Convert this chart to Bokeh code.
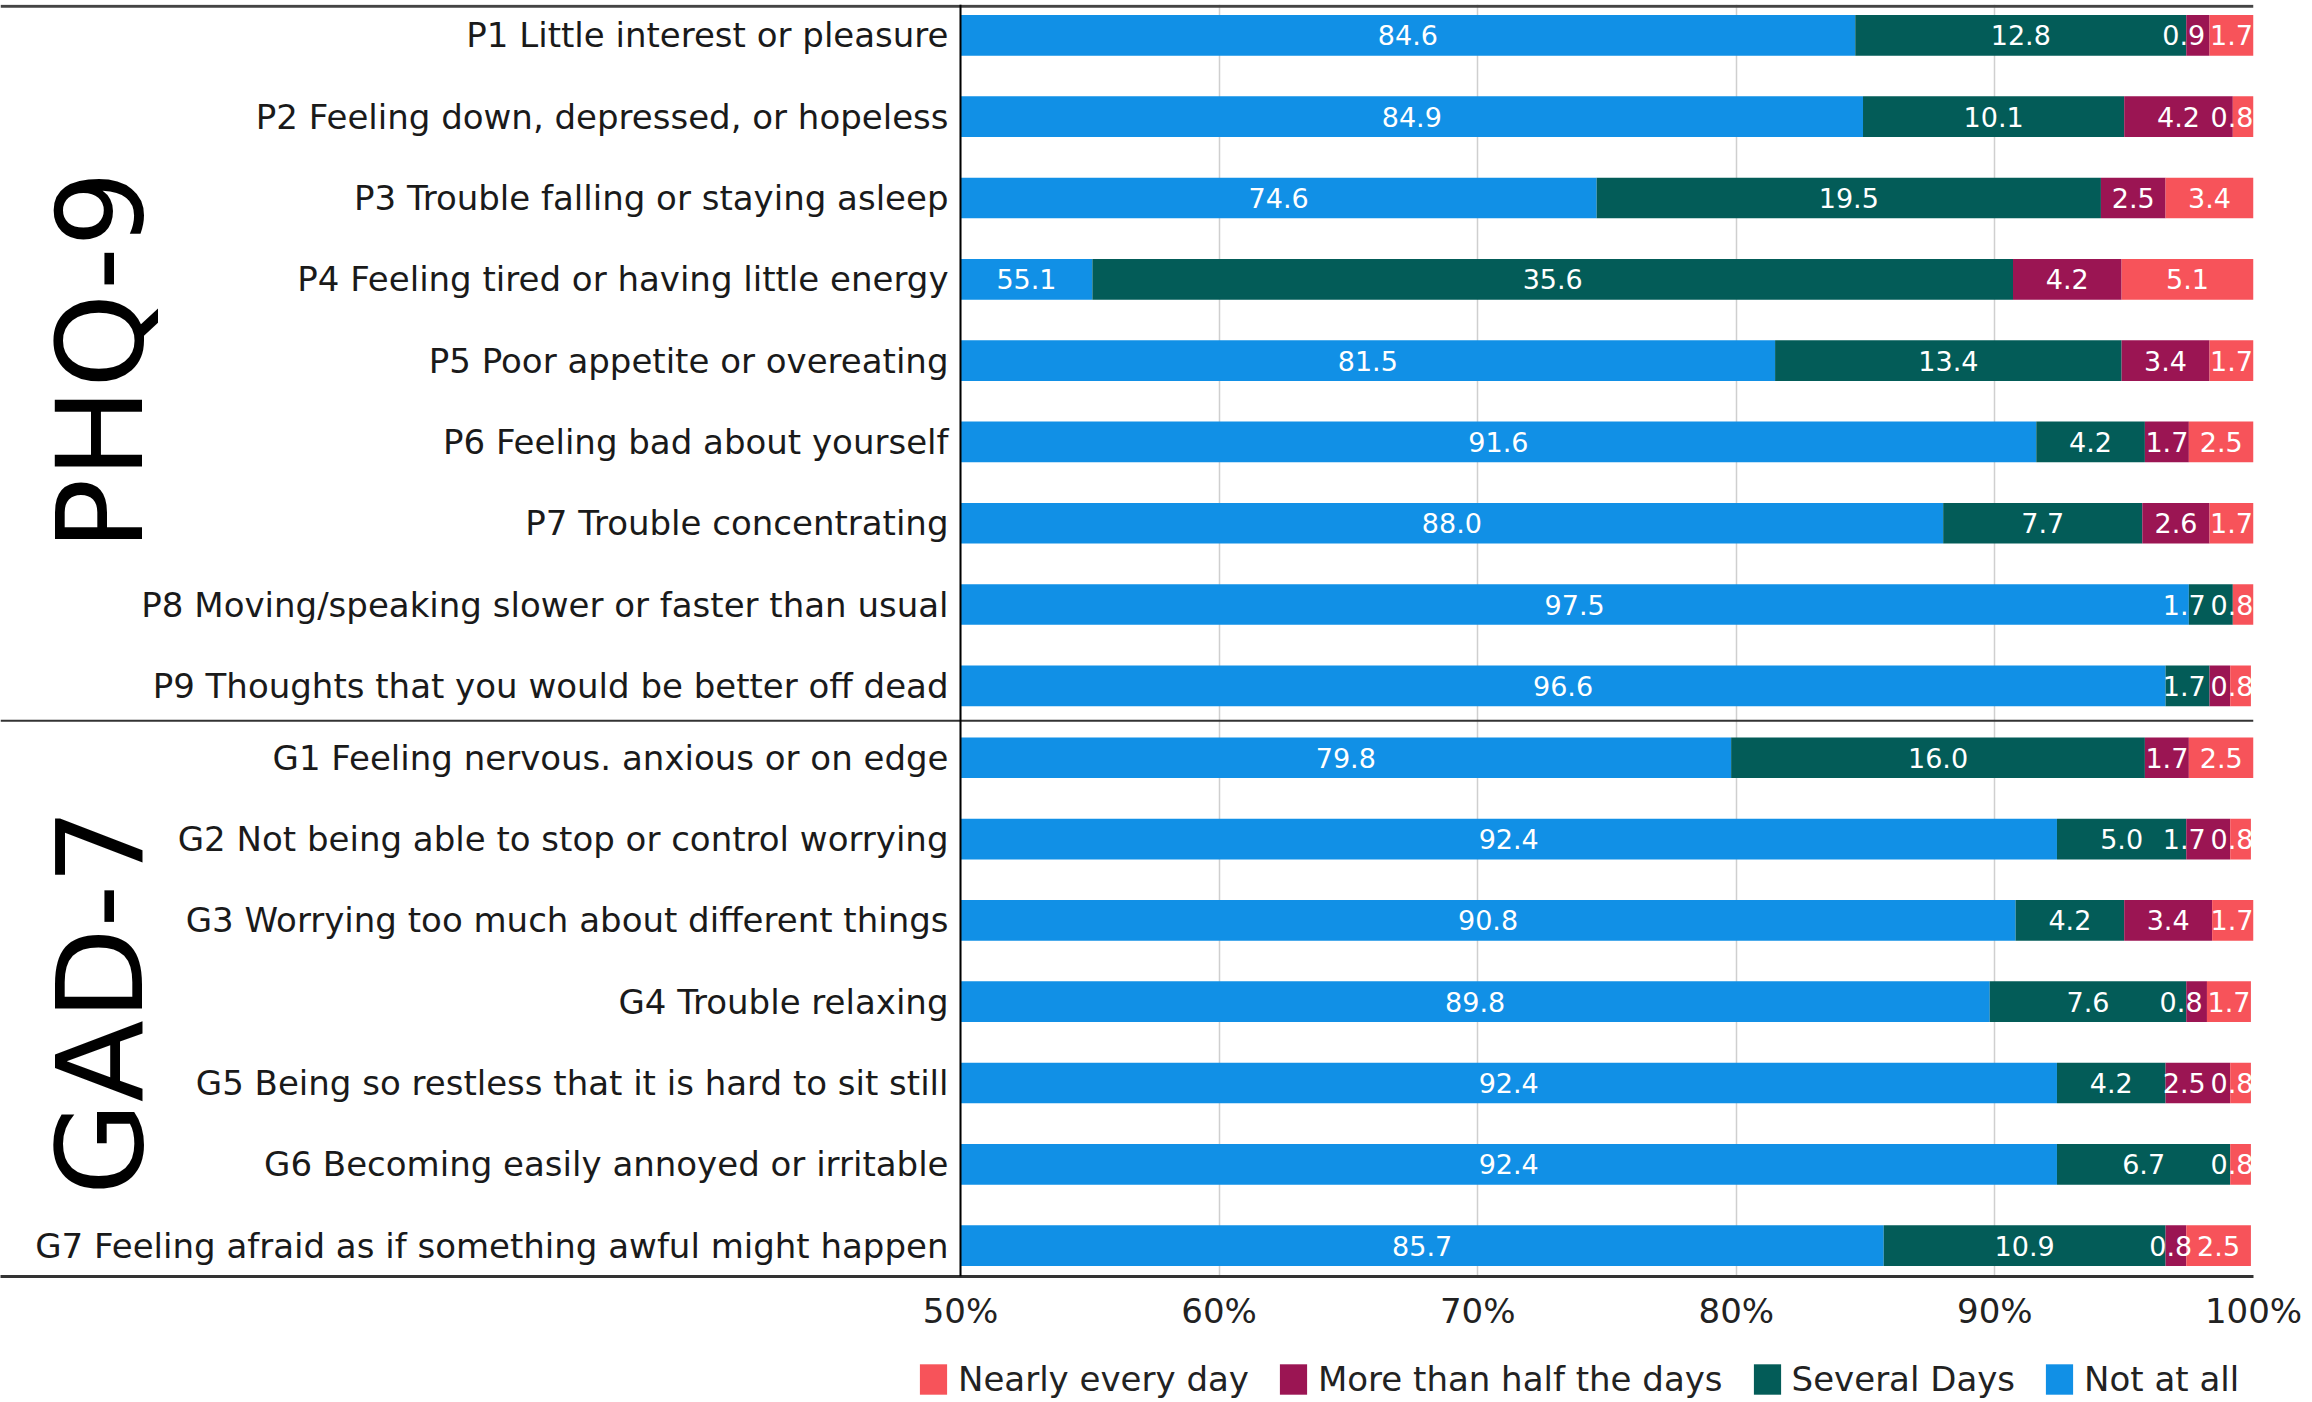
import numpy as np
from bokeh.plotting import figure
from bokeh.layouts import column
from bokeh.models import (ColumnDataSource, Range1d, FixedTicker, PrintfTickFormatter,
                          Span, Legend, LegendItem)
from bokeh.core.properties import value
from bokeh.embed import file_html
from bokeh.resources import INLINE

# ---------------- data ----------------
groups = ["PHQ-9", "GAD-7"]
phq_items = [
    "P1 Little interest or pleasure",
    "P2 Feeling down, depressed, or hopeless",
    "P3 Trouble falling or staying asleep",
    "P4 Feeling tired or having little energy",
    "P5 Poor appetite or overeating",
    "P6 Feeling bad about yourself",
    "P7 Trouble concentrating",
    "P8 Moving/speaking slower or faster than usual",
    "P9 Thoughts that you would be better off dead",
]
gad_items = [
    "G1 Feeling nervous. anxious or on edge",
    "G2 Not being able to stop or control worrying",
    "G3 Worrying too much about different things",
    "G4 Trouble relaxing",
    "G5 Being so restless that it is hard to sit still",
    "G6 Becoming easily annoyed or irritable",
    "G7 Feeling afraid as if something awful might happen",
]
series = ["Not at all", "Several Days", "More than half the days", "Nearly every day"]
not_at_all       = [84.6, 84.9, 74.6, 55.1, 81.5, 91.6, 88.0, 97.5, 96.6,
                    79.8, 92.4, 90.8, 89.8, 92.4, 92.4, 85.7]
several_days     = [12.8, 10.1, 19.5, 35.6, 13.4, 4.2, 7.7, 1.7, 1.7,
                    16.0, 5.0, 4.2, 7.6, 4.2, 6.7, 10.9]
more_than_half   = [0.9, 4.2, 2.5, 4.2, 3.4, 1.7, 2.6, 0.0, 0.8,
                    1.7, 1.7, 3.4, 0.8, 2.5, 0.0, 0.8]
nearly_every_day = [1.7, 0.8, 3.4, 5.1, 1.7, 2.5, 1.7, 0.8, 0.8,
                    2.5, 0.8, 1.7, 1.7, 0.8, 0.8, 2.5]
x_ticks = [50, 60, 70, 80, 90, 100]

# ---------------- styling / layout ----------------
colors = ["#1190E6", "#035C58", "#9B1553", "#F7535A"]
FONT = "DejaVu Sans"
FRAME_W, FRAME_H = 2253, 1272
AX_LEFT_PX = 960                      # where 50% sits inside the frame
x_min, x_max = x_ticks[0], x_ticks[-1]
px_per_unit = (FRAME_W - AX_LEFT_PX) / (x_max - x_min)
x_start = x_min - AX_LEFT_PX / px_per_unit

GROUP_GAP = 0.885
PAD_TOP, PAD_BOT = 0.38, 0.38
n_p, n_g = len(phq_items), len(gad_items)
items = phq_items + gad_items
ys = [-float(i) for i in range(n_p)] + [-(n_p - 1 + GROUP_GAP + j) for j in range(n_g)]
divider_y = -(n_p - 1 + 0.43)
y_top = PAD_TOP
y_bot = ys[-1] - PAD_BOT

vals = np.array([not_at_all, several_days, more_than_half, nearly_every_day])  # (4, 16)
ends = np.cumsum(vals, axis=0)
starts = ends - vals

p = figure(frame_width=FRAME_W, frame_height=FRAME_H,
           x_range=Range1d(x_start, x_max), y_range=Range1d(y_bot, y_top),
           output_backend="svg", toolbar_location=None, y_axis_location=None,
           min_border_left=0, min_border_right=52, min_border_top=4, min_border_bottom=62,
           outline_line_color=None, background_fill_color="white")

# grid
p.xgrid.ticker = FixedTicker(ticks=x_ticks)
p.xgrid.grid_line_color = "#cfcfcf"
p.xgrid.grid_line_width = 1.5
p.ygrid.visible = False

# bars
renderers = []
for k in range(4):
    src = ColumnDataSource(dict(y=ys, left=np.maximum(starts[k], x_min), right=ends[k]))
    r = p.hbar(y="y", left="left", right="right", height=0.5, source=src,
               fill_color=colors[k], line_color=None)
    renderers.append(r)

# value labels (centred in visible segment, nudged left to avoid overlap)
HALF_W = 0.83
GAP = 1.85
lx, ly, lt = [], [], []
for r_i in range(len(ys)):
    segs = []
    for k in range(4):
        v = vals[k, r_i]
        if v <= 0:
            continue
        lo = max(starts[k, r_i], x_min)
        hi = min(ends[k, r_i], x_max)
        segs.append(((lo + hi) / 2.0, v))
    limit = x_max - HALF_W
    for idx in range(len(segs) - 1, -1, -1):
        c, v = segs[idx]
        pos = min(c, x_max - HALF_W)
        if limit < pos:
            pos = limit
            if idx > 0 and segs[idx - 1][0] > pos - GAP:
                continue
        lx.append(pos); ly.append(ys[r_i]); lt.append(f"{v:.1f}")
        limit = pos - GAP
p.text(x=lx, y=ly, text=lt, text_align="center", text_baseline="middle",
       text_color="white", text_font=value(FONT), text_font_size="27px")

# category labels
p.text(x=[x_min] * len(items), y=ys, text=items, x_offset=-12,
       text_align="right", text_baseline="middle", text_color="#1a1a1a",
       text_font=value(FONT), text_font_size="34px")

# group labels (large, rotated, at the far left)
group_y = [float(np.mean(ys[:n_p])), float(np.mean(ys[n_p:]))]
p.text(x=[x_start] * 2, y=group_y, text=groups, angle=np.pi / 2, x_offset=100,
       text_align="center", text_baseline="alphabetic", text_color="black",
       text_font=value(FONT), text_font_size="120px")

# rules
p.add_layout(Span(location=y_top - 0.02, dimension="width", line_color="#444444", line_width=3))
p.add_layout(Span(location=divider_y, dimension="width", line_color="#333333", line_width=2))
p.add_layout(Span(location=x_min, dimension="height", line_color="black", line_width=2))

# x axis
xa = p.xaxis[0]
xa.ticker = FixedTicker(ticks=x_ticks)
xa.formatter = PrintfTickFormatter(format="%d%%")
xa.axis_line_color = "#333333"
xa.axis_line_width = 3
xa.major_tick_line_color = None
xa.minor_tick_line_color = None
xa.major_tick_out = 0
xa.major_tick_in = 0
xa.major_label_standoff = 14
xa.major_label_text_font = FONT
xa.major_label_text_font_size = "34px"
xa.major_label_text_color = "#222222"

# legend strip below the chart
LEG_H = 62
q = figure(frame_width=FRAME_W, frame_height=LEG_H,
           x_range=Range1d(0, FRAME_W), y_range=Range1d(0, LEG_H),
           output_backend="svg", toolbar_location=None,
           x_axis_location=None, y_axis_location=None,
           min_border_left=0, min_border_right=52, min_border_top=0, min_border_bottom=0,
           outline_line_color=None, background_fill_color="white")
q.xgrid.visible = False
q.ygrid.visible = False
# off-screen stand-ins so the legend has a glyph for each series
dummies = [q.hbar(y=[-1000], left=[0], right=[1], height=1, fill_color=c, line_color=None)
           for c in colors]
legend = Legend(items=[LegendItem(label=series[k], renderers=[dummies[k]]) for k in [3, 2, 1, 0]],
                orientation="horizontal", location=(916, 1),
                label_text_font=FONT, label_text_font_size="34px", label_text_color="#222222",
                glyph_width=34, glyph_height=38, label_standoff=8, spacing=27,
                padding=0, margin=0, border_line_color=None, background_fill_alpha=0)
q.add_layout(legend, "center")

layout = column(p, q, spacing=0)
open("out.html", "w").write(file_html(layout, INLINE, title="PHQ-9 and GAD-7 responses"))
